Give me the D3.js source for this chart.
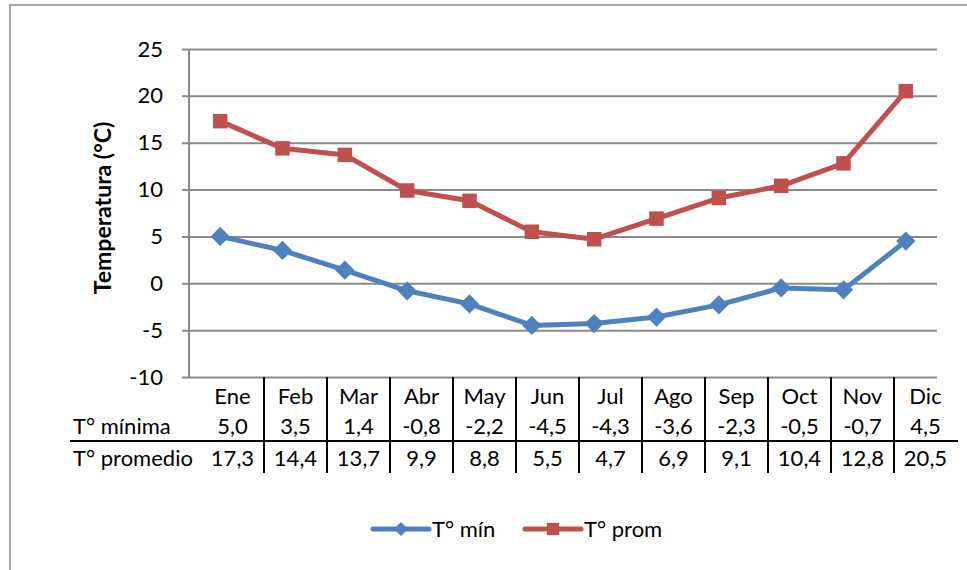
<!DOCTYPE html>
<html lang="es">
<head>
    <meta charset="UTF-8">
    <title>Temperatura</title>
    <style>
        body { margin: 0; background: #fff; }
        svg { display: block; }
        text { font-family: Lato, "Open Sans", sans-serif; fill: #000; }
    </style>
</head>
<body>
    <svg id="svg"></svg>
</body>
<script src="https://d3js.org/d3.v7.min.js"></script>
<script>
    // datos
    const months = ["Ene", "Feb", "Mar", "Abr", "May", "Jun", "Jul", "Ago", "Sep", "Oct", "Nov", "Dic"];
    const tMin = [5.0, 3.5, 1.4, -0.8, -2.2, -4.5, -4.3, -3.6, -2.3, -0.5, -0.7, 4.5];
    const tProm = [17.3, 14.4, 13.7, 9.9, 8.8, 5.5, 4.7, 6.9, 9.1, 10.4, 12.8, 20.5];
    const yTicks = [-10, -5, 0, 5, 10, 15, 20, 25];
    const rowLabels = ["T° mínima", "T° promedio"];
    const legendLabels = ["T° mín", "T° prom"];

    const width = 967, height = 570;
    const plot = { left: 189, right: 937, top: 49, bottom: 377 };
    const blue = "#4F81BD", red = "#C0504D", grid = "#8a8a8a";

    const svg = d3.select("#svg").attr("width", width).attr("height", height);

    // borde exterior
    svg.append("rect")
        .attr("x", 10).attr("y", 5)
        .attr("width", width).attr("height", height)
        .attr("fill", "none").attr("stroke", "#a6a6a6").attr("stroke-width", 2);

    const x = d3.scaleBand().domain(months).range([plot.left, plot.right]);
    const xc = m => x(m) + x.bandwidth() / 2;
    const y = d3.scaleLinear().domain([-10, 25]).range([plot.bottom, plot.top]);

    const loc = d3.formatLocale({ decimal: ",", thousands: ".", grouping: [3], currency: ["", ""], minus: "-" });
    const fmt = loc.format(".1f");
    const fmtInt = loc.format("d");

    // rejilla y eje y
    const yAxis = d3.axisLeft(y)
        .tickValues(yTicks)
        .tickSize(-(plot.right - plot.left) - 7)
        .tickFormat(fmtInt)
        .tickPadding(19);
    const gy = svg.append("g")
        .attr("transform", `translate(${plot.right},0)`)
        .call(yAxis);
    gy.select(".domain").remove();
    gy.selectAll(".tick line").attr("x1", -(plot.right - plot.left) - 7).attr("x2", 0)
        .attr("stroke", grid).attr("stroke-width", 2);
    gy.selectAll(".tick text")
        .attr("x", -(plot.right - plot.left) - 26)
        .attr("font-size", 22)
        .attr("font-family", "Lato");

    svg.append("line")
        .attr("x1", plot.left).attr("x2", plot.left)
        .attr("y1", plot.top).attr("y2", plot.bottom)
        .attr("stroke", grid).attr("stroke-width", 2);

    svg.append("text")
        .attr("transform", `translate(111,${(plot.top + plot.bottom) / 2 - 5}) rotate(-90)`)
        .attr("text-anchor", "middle")
        .attr("font-size", 23)
        .attr("font-weight", "bold")
        .text("Temperatura (°C)");

    // series (rombo = cuadrado girado 45°)
    const series = [
        { name: legendLabels[0], values: tMin, color: blue, rot: 45, size: 185, legSize: 100 },
        { name: legendLabels[1], values: tProm, color: red, rot: 0, size: 210, legSize: 150 }
    ];
    const line = d3.line().x((d, i) => xc(months[i])).y(d => y(d));

    series.forEach(s => {
        const g = svg.append("g");
        g.append("path")
            .attr("d", line(s.values))
            .attr("fill", "none")
            .attr("stroke", s.color)
            .attr("stroke-width", 5)
            .attr("stroke-linejoin", "round");
        g.selectAll("path.m")
            .data(s.values)
            .join("path")
            .attr("class", "m")
            .attr("transform", (d, i) => `translate(${xc(months[i])},${y(d)}) rotate(${s.rot})`)
            .attr("d", d3.symbol().type(d3.symbolSquare).size(s.size))
            .attr("fill", s.color);
    });

    // tabla de datos
    const tx = d3.scaleBand().domain(months).range([201, 957]);
    const rowBase = [404, 434, 466];
    const table = svg.append("g").attr("font-size", 22);

    table.selectAll("line.v")
        .data(months.slice(1))
        .join("line")
        .attr("x1", d => tx(d)).attr("x2", d => tx(d))
        .attr("y1", plot.bottom).attr("y2", 473)
        .attr("stroke", "#000").attr("stroke-width", 2);
    table.append("line")
        .attr("x1", 70).attr("x2", 958)
        .attr("y1", 441).attr("y2", 441)
        .attr("stroke", "#000").attr("stroke-width", 2);

    table.selectAll("text.mes")
        .data(months)
        .join("text")
        .attr("x", d => tx(d) + tx.bandwidth() / 2)
        .attr("y", rowBase[0])
        .attr("text-anchor", "middle")
        .text(d => d);

    [tMin, tProm].forEach((vals, r) => {
        table.append("text")
            .attr("x", 73).attr("y", rowBase[r + 1])
            .text(rowLabels[r]);
        table.selectAll(null)
            .data(vals)
            .join("text")
            .attr("x", (d, i) => tx(months[i]) + tx.bandwidth() / 2)
            .attr("y", rowBase[r + 1])
            .attr("text-anchor", "middle")
            .text(d => fmt(d));
    });

    // leyenda
    const legendX = [373, 525];
    const legend = svg.append("g");
    series.forEach((s, i) => {
        const g = legend.append("g").attr("transform", `translate(${legendX[i]},529)`);
        g.append("line")
            .attr("x1", 0).attr("x2", 56)
            .attr("stroke", s.color).attr("stroke-width", 5).attr("stroke-linecap", "round");
        g.append("path")
            .attr("transform", `translate(28,0) rotate(${s.rot})`)
            .attr("d", d3.symbol().type(d3.symbolSquare).size(s.legSize))
            .attr("fill", s.color);
        g.append("text")
            .attr("x", 59).attr("y", 8)
            .attr("font-size", 22)
            .text(s.name);
    });
</script>
</html>
